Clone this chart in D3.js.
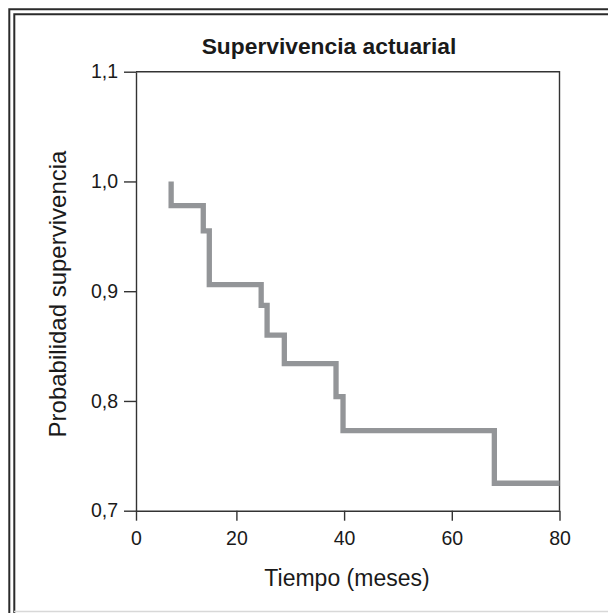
<!DOCTYPE html>
<html>
<head>
<meta charset="utf-8">
<script src="https://cdn.jsdelivr.net/npm/d3@7"></script>
<style>
  body { margin: 0; background: #fff; }
  svg { display: block; }
</style>
</head>
<body>
<div id="chart"></div>
<script>
// survival curve (time in months, cumulative survival)
var tiempo = [7.0, 7.0, 13.4, 14.6, 24.6, 25.7, 28.9, 38.5, 39.8, 67.9, 80];
var supervivencia = [1.0, 0.978, 0.955, 0.906, 0.887, 0.860, 0.834, 0.804, 0.773, 0.725, 0.725];
var xTicks = [0, 20, 40, 60, 80];
var yTicks = [0.7, 0.8, 0.9, 1.0, 1.1];

var W = 608, H = 613;
var fmt = function(d) { return d3.format(".1f")(d).replace(".", ","); };

var svg = d3.select("#chart")
  .append("svg")
  .attr("width", W)
  .attr("height", H);

// double frame on the left and top, light line at the bottom
svg.append("path")
  .attr("stroke", "#2b2b2b")
  .attr("stroke-width", 2)
  .attr("fill", "none")
  .attr("d", "M 9.3 613 L 9.3 9.3 L 608 9.3 M 14.3 613 L 14.3 14.3 L 608 14.3");

svg.append("line")
  .attr("stroke", "#d8d8d8")
  .attr("stroke-width", 1.5)
  .attr("x1", 14)
  .attr("x2", 608)
  .attr("y1", 611.5)
  .attr("y2", 611.5);

// the picture's x axis is not quite linear: 0 sits on the frame edge
var x = d3.scaleLinear()
  .domain([0, 20, 80])
  .range([136, 236.4, 559.5]);

var y = d3.scaleLinear()
  .domain([0.7, 1.1])
  .range([510.7, 71.7]);

var g = svg.append("g");

// box: top and right sides
g.append("path")
  .attr("stroke", "#333")
  .attr("stroke-width", 1.4)
  .attr("fill", "none")
  .attr("d", "M " + x(0) + " " + y(1.1) + " L " + x(80) + " " + y(1.1) + " L " + x(80) + " " + y(0.7));

var yAxis = g.append("g")
  .attr("transform", "translate(" + x(0) + ",0)")
  .call(d3.axisLeft(y).tickValues(yTicks).tickFormat(fmt).tickSize(12).tickPadding(6).tickSizeOuter(0));

var xAxis = g.append("g")
  .attr("transform", "translate(0," + y(0.7) + ")")
  .call(d3.axisBottom(x).tickValues(xTicks).tickSize(10).tickPadding(10).tickSizeOuter(0));

[yAxis, xAxis].forEach(function(a) {
    a.selectAll("path, line")
      .attr("stroke", "#333")
      .attr("stroke-width", 1.4);
    a.selectAll("text")
      .attr("fill", "#1a1a1a")
      .attr("font-family", "Liberation Sans, Arial, sans-serif")
      .style("font-size", "19.5px");
});

var line = d3.line()
  .x(function(d, i) { return x(tiempo[i]); })
  .y(function(d) { return y(d); })
  .curve(d3.curveStepAfter);

g.append("path")
  .datum(supervivencia)
  .attr("fill", "none")
  .attr("stroke", "#939598")
  .attr("stroke-width", 5.3)
  .attr("stroke-linejoin", "miter")
  .attr("stroke-linecap", "butt")
  .attr("d", line);

svg.append("text")
  .attr("x", 329)
  .attr("y", 54)
  .attr("text-anchor", "middle")
  .attr("fill", "#1a1a1a")
  .attr("font-family", "Liberation Sans, Arial, sans-serif")
  .attr("font-weight", "bold")
  .style("font-size", "22.8px")
  .text("Supervivencia actuarial");

svg.append("text")
  .attr("x", 347)
  .attr("y", 586)
  .attr("text-anchor", "middle")
  .attr("fill", "#1a1a1a")
  .attr("font-family", "Liberation Sans, Arial, sans-serif")
  .style("font-size", "23px")
  .text("Tiempo (meses)");

svg.append("text")
  .attr("transform", "translate(66,294) rotate(-90)")
  .attr("text-anchor", "middle")
  .attr("fill", "#1a1a1a")
  .attr("font-family", "Liberation Sans, Arial, sans-serif")
  .style("font-size", "24px")
  .text("Probabilidad supervivencia");
</script>
</body>
</html>
